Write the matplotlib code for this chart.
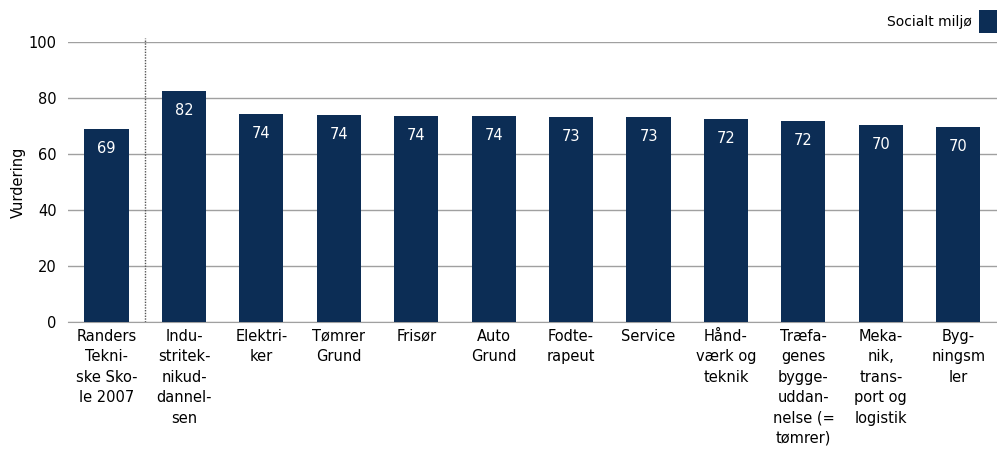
import matplotlib.pyplot as plt
from matplotlib.patches import Rectangle

# Data
categories = [
    "Randers\nTekni-\nske Sko-\nle 2007",
    "Indu-\nstritek-\nnikud-\ndannel-\nsen",
    "Elektri-\nker",
    "Tømrer\nGrund",
    "Frisør",
    "Auto\nGrund",
    "Fodte-\nrapeut",
    "Service",
    "Hånd-\nværk og\nteknik",
    "Træfa-\ngenes\nbygge-\nuddan-\nnelse (=\ntømrer)",
    "Meka-\nnik,\ntrans-\nport og\nlogistik",
    "Byg-\nningsm\nler",
]
values = [68.9, 82.5, 74.3, 73.9, 73.6, 73.6, 73.2, 73.2, 72.5, 71.8, 70.4, 69.6]
labels = [69, 82, 74, 74, 74, 74, 73, 73, 72, 72, 70, 70]
series_name = "Socialt miljø"

bar_color = "#0c2d55"
grid_color = "#a0a0a0"

plt.rcParams['font.family'] = ['DejaVu Sans']
fig = plt.figure(figsize=(9.97, 4.5), dpi=100)
ax = fig.add_axes([0.068, 0.2844, 0.932, 0.6223])

x = range(len(values))
bars = ax.bar(x, values, width=0.57, color=bar_color, zorder=3)

# value labels inside the bars
for xi, v, lab in zip(x, values, labels):
    ax.text(xi, v - 6.9, str(lab), ha="center", va="center", color="white", fontsize=10.5, zorder=4)

ax.set_xlim(-0.5, len(values) - 0.5)
ax.set_ylim(0, 100)
ax.set_yticks(range(0, 101, 20))
ax.yaxis.grid(True, color=grid_color, linewidth=1, zorder=0)
ax.tick_params(axis="y", length=0, labelsize=10.5, pad=8)
ax.tick_params(axis="x", length=0, labelsize=10.5, pad=5)
ax.set_xticks(list(x))
ax.set_xticklabels(categories, linespacing=1.45, va="top")
ax.set_ylabel("Vurdering", fontsize=10.5)
ax.yaxis.set_label_coords(-0.045, 0.5)

for side in ["top", "right", "left"]:
    ax.spines[side].set_visible(False)
ax.spines["bottom"].set_color(grid_color)

# dotted separator after the first bar
ax.plot([0.5, 0.5], [0, 101.5], linestyle=(0, (1, 1)), color="#555555", linewidth=1, clip_on=False, zorder=2)

# legend in the top right corner
fig.text(0.975, 0.952, series_name, ha="right", va="center", fontsize=10)
fig.patches.append(Rectangle((0.982, 0.927), 0.018, 0.051, transform=fig.transFigure,
                             facecolor=bar_color, edgecolor="none"))

plt.savefig("out.png", dpi=100)
